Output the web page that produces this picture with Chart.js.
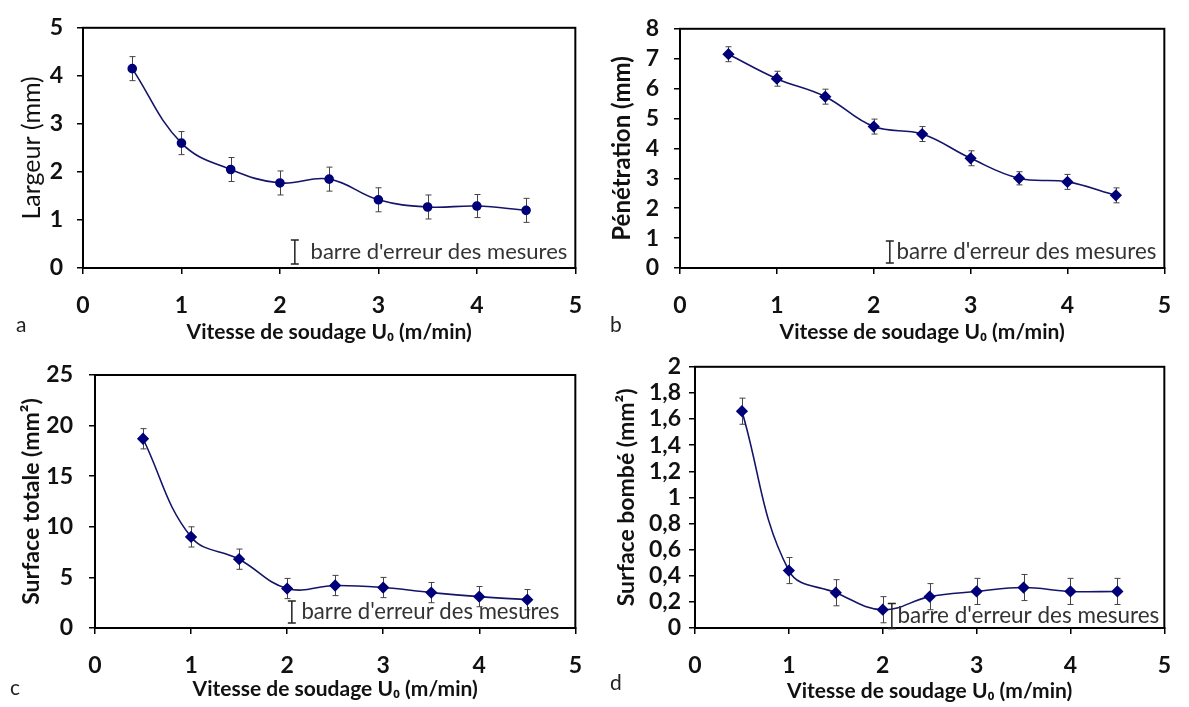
<!DOCTYPE html>
<html>
<head>
<meta charset="utf-8">
<script src="https://cdn.jsdelivr.net/npm/chart.js@4/dist/chart.umd.min.js"></script>
<style>
  body { margin: 0; background: #fff; width: 1189px; height: 707px; overflow: hidden; position: relative; font-family: Lato, sans-serif; }
  .panel { position: absolute; }
  .tag { position: absolute; font-family: Lato, sans-serif; font-size: 21px; color: #222; }
</style>
</head>
<body>
<div class="panel" id="pa" style="left:0;top:0;width:600px;height:345px"><canvas id="ca"></canvas></div>
<div class="panel" id="pb" style="left:595px;top:0;width:594px;height:345px"><canvas id="cb"></canvas></div>
<div class="panel" id="pc" style="left:0;top:345px;width:600px;height:362px"><canvas id="cc"></canvas></div>
<div class="panel" id="pd" style="left:595px;top:345px;width:594px;height:362px"><canvas id="cd"></canvas></div>
<div class="tag" style="left:16px;top:311px">a</div>
<div class="tag" style="left:610px;top:311px">b</div>
<div class="tag" style="left:10px;top:674px">c</div>
<div class="tag" style="left:610px;top:669px">d</div>
<script>
// welding speed (m/min)
const speeds = [0.5, 1, 1.5, 2, 2.5, 3, 3.5, 4, 4.5];

// a - bead width
const largeur = [4.15, 2.6, 2.05, 1.77, 1.85, 1.42, 1.27, 1.29, 1.2];
const largeurErr = [0.25, 0.24, 0.25, 0.25, 0.25, 0.25, 0.25, 0.24, 0.25];

// b - penetration
const penetration = [7.15, 6.33, 5.73, 4.73, 4.48, 3.67, 3.0, 2.88, 2.43];
const penetrationErr = [0.25, 0.25, 0.25, 0.25, 0.25, 0.25, 0.22, 0.25, 0.25];

// c - total area
const surfaceTotale = [18.7, 9.0, 6.8, 3.9, 4.2, 4.0, 3.5, 3.1, 2.8];
const surfaceTotaleErr = [1.0, 1.0, 1.0, 1.0, 1.0, 1.0, 1.0, 1.0, 1.0];

// d - reinforcement area
const surfaceBombe = [1.66, 0.44, 0.27, 0.14, 0.24, 0.28, 0.31, 0.28, 0.28];
const surfaceBombeErr = [0.1, 0.1, 0.1, 0.1, 0.1, 0.1, 0.1, 0.1, 0.1];

const xTitle = 'Vitesse de soudage U\u2080 (m/min)';
const noteText = "barre d'erreur des mesures";

Chart.defaults.font.family = "Lato, 'DejaVu Sans', sans-serif";
Chart.defaults.color = '#111';

// vertical error bars with caps
const errorBars = {
  id: 'errorBars',
  beforeDatasetsDraw(chart, args, opts) {
    const { ctx, scales: { x, y } } = chart;
    const pts = chart.data.datasets[0].data;
    ctx.save();
    ctx.strokeStyle = '#444';
    ctx.lineWidth = 1;
    pts.forEach((p, i) => {
      const px = Math.round(x.getPixelForValue(p.x)) + 0.5;
      const t = y.getPixelForValue(p.y + opts.err[i]);
      const b = y.getPixelForValue(p.y - opts.err[i]);
      ctx.beginPath();
      ctx.moveTo(px, t); ctx.lineTo(px, b);
      ctx.moveTo(px - 3, t); ctx.lineTo(px + 3, t);
      ctx.moveTo(px - 3, b); ctx.lineTo(px + 3, b);
      ctx.stroke();
    });
    ctx.restore();
  }
};

// box around plot area + error bar note
const frame = {
  id: 'frame',
  afterDraw(chart, args, opts) {
    const { ctx, chartArea: a } = chart;
    ctx.save();
    ctx.strokeStyle = '#000';
    ctx.lineWidth = 2;
    ctx.strokeRect(a.left, a.top, a.right - a.left, a.bottom - a.top);

    // note
    const n = opts.note;
    ctx.font = n.size + "px Lato, sans-serif";
    let w = ctx.measureText(noteText).width;
    let size = n.size * n.width / w;
    ctx.font = size + "px Lato, sans-serif";
    ctx.fillStyle = '#333';
    ctx.textBaseline = 'middle';
    ctx.textAlign = 'right';
    const tx = a.right - n.right;
    const ty = a.bottom - n.bottom;
    ctx.fillText(noteText, tx, ty);
    const sx = tx - n.width - n.gap + 0.5;
    ctx.strokeStyle = '#222';
    ctx.lineWidth = 1.5;
    ctx.beginPath();
    ctx.moveTo(sx, ty - n.h / 2); ctx.lineTo(sx, ty + n.h / 2);
    ctx.moveTo(sx - 4, ty - n.h / 2); ctx.lineTo(sx + 4, ty - n.h / 2);
    ctx.moveTo(sx - 4, ty + n.h / 2); ctx.lineTo(sx + 4, ty + n.h / 2);
    ctx.stroke();
    ctx.restore();
  }
};

function makePanel(id, opt) {
  const data = speeds.map((s, i) => ({ x: s, y: opt.values[i] }));
  return new Chart(document.getElementById(id), {
    type: 'line',
    data: {
      datasets: [{
        data: data,
        borderColor: '#14146a',
        borderWidth: 1.6,
        backgroundColor: '#00007a',
        pointBackgroundColor: '#00007a',
        pointBorderColor: '#00007a',
        pointStyle: opt.marker,
        pointRadius: opt.marker === 'circle' ? 4 : 5,
        tension: 0.4,
        fill: false,
      }],
    },
    options: {
      responsive: true,
      maintainAspectRatio: false,
      animation: false,
      layout: { padding: opt.padding },
      plugins: {
        legend: { display: false },
        tooltip: { enabled: false },
        errorBars: { err: opt.err },
        frame: { note: opt.note },
      },
      scales: {
        x: {
          type: 'linear',
          min: 0,
          max: 5,
          afterFit: (s) => { s.height = opt.xHeight; },
          ticks: { stepSize: 1, padding: 18, font: { size: 23, weight: 'bold' }, color: '#111', maxRotation: 0 },
          grid: { drawOnChartArea: false, color: '#000', tickLength: 6, lineWidth: 1.5 },
          border: { color: '#000', width: 2 },
          title: {
            display: true,
            text: xTitle,
            font: { size: 21, weight: 'bold' },
            color: '#111',
            padding: { top: 0, bottom: opt.xTitlePad },
          },
        },
        y: {
          min: opt.min,
          max: opt.max,
          afterFit: (s) => { s.width = opt.yWidth; },
          ticks: {
            stepSize: opt.step,
            autoSkip: false,
            padding: opt.yTickPad,
            font: { size: 23, weight: 'bold' },
            color: '#111',
            callback: (v) => String(Math.round(v * 10) / 10).replace('.', ','),
          },
          grid: { drawOnChartArea: false, color: '#000', tickLength: 6, lineWidth: 1.5 },
          border: { color: '#000', width: 2 },
          title: {
            display: true,
            text: opt.yTitle,
            font: { size: opt.ySize, weight: opt.yWeight },
            color: '#111',
            padding: { top: 0, bottom: 0 },
          },
        },
      },
    },
    plugins: [errorBars, frame],
  });
}

makePanel('ca', {
  values: largeur, err: largeurErr, marker: 'circle',
  min: 0, max: 5, step: 1, yTitle: 'Largeur (mm)', yWeight: 'normal', ySize: 25,
  padding: { left: 17, top: 19, right: 12, bottom: 0 },
  yWidth: 66, xHeight: 77, xTitlePad: 0, yTickPad: 14,
  note: { size: 20, width: 257, right: 8, bottom: 16, gap: 16, h: 24 },
});

makePanel('cb', {
  values: penetration, err: penetrationErr, marker: 'rectRot',
  min: 0, max: 8, step: 1, yTitle: 'Pénétration (mm)', yWeight: 'bold', ySize: 24,
  padding: { left: 13, top: 20, right: 16, bottom: 0 },
  yWidth: 72, xHeight: 77, xTitlePad: 0, yTickPad: 15,
  note: { size: 20, width: 260, right: 8, bottom: 16, gap: 7, h: 22 },
});

makePanel('cc', {
  values: surfaceTotale, err: surfaceTotaleErr, marker: 'rectRot',
  min: 0, max: 25, step: 5, yTitle: 'Surface totale (mm²)', yWeight: 'bold', ySize: 23,
  padding: { left: 18, top: 30, right: 10, bottom: 0 },
  yWidth: 77, xHeight: 79, xTitlePad: 5, yTickPad: 16,
  note: { size: 20, width: 258, right: 16, bottom: 16, gap: 10, h: 22 },
});

makePanel('cd', {
  values: surfaceBombe, err: surfaceBombeErr, marker: 'rectRot',
  min: 0, max: 2, step: 0.2, yTitle: 'Surface bombé (mm²)', yWeight: 'bold', ySize: 23,
  padding: { left: 18, top: 13, right: 6, bottom: 0 },
  yWidth: 82, xHeight: 79, xTitlePad: 3, yTickPad: 8,
  note: { size: 20, width: 262, right: 5, bottom: 12, gap: 6, h: 25 },
});
</script>
</body>
</html>
